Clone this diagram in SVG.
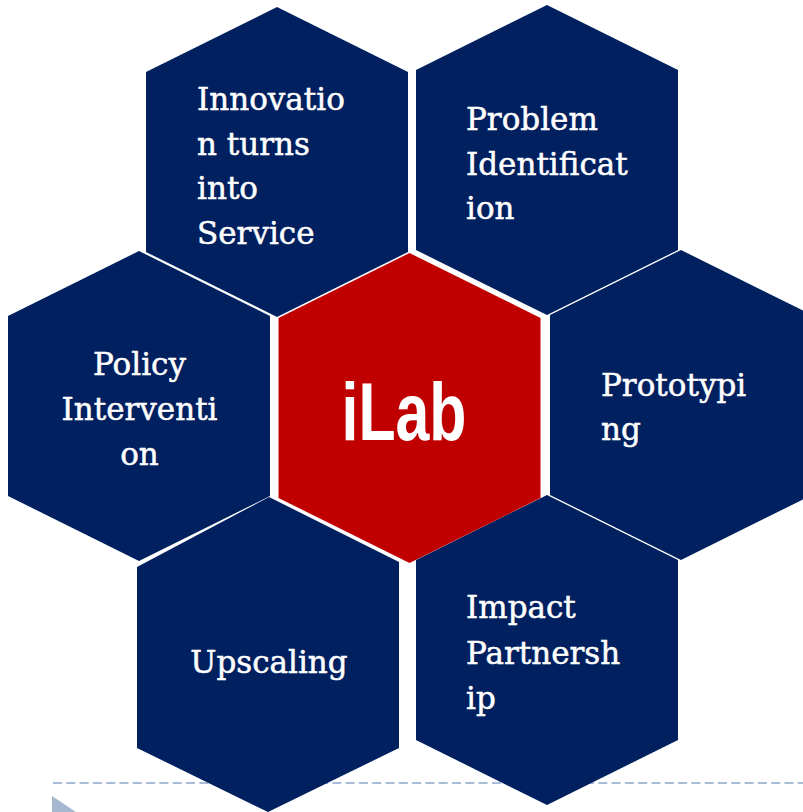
<svg xmlns="http://www.w3.org/2000/svg" width="803" height="812" viewBox="0 0 803 812">
<style>
.hex{fill:#002060;stroke:none}
.core{fill:#C00000;stroke:none}
.t{font-family:"DejaVu Serif","Liberation Serif",serif;font-size:31px;fill:#FFFFFF;stroke:#FFFFFF;stroke-width:0.5px}
.c{text-anchor:middle}
.big{font-family:"Liberation Sans",Arial,sans-serif;font-size:82px;font-weight:bold;fill:#FFFFFF;text-anchor:middle}
</style>
<rect width="803" height="812" fill="#FFFFFF"/>
<g id="decor">
<line x1="53" y1="783" x2="803" y2="783" stroke="#A9BCD5" stroke-width="2" stroke-dasharray="9 4.3"/>
<polygon points="52,796 76,812 52,828" fill="#A5B8D0"/>
</g>
<g id="connectors"></g>
<g id="innovation">
<polygon class="hex" points="277,7 408,72 408,252 277,317 146,252 146,72"/>
<text class="t"><tspan x="197" y="110">Innovatio</tspan><tspan x="197" y="155">n turns</tspan><tspan x="197" y="199">into</tspan><tspan x="197" y="244">Service</tspan></text>
</g>
<g id="problem">
<polygon class="hex" points="547,5 678,70 678,250 547,315 416,250 416,70"/>
<text class="t"><tspan x="466" y="130">Problem</tspan><tspan x="466" y="175">Identificat</tspan><tspan x="466" y="219">ion</tspan></text>
</g>
<g id="policy">
<polygon class="hex" points="139,251 270,316 270,496 139,561 8,496 8,316"/>
<text class="t c"><tspan x="139.5" y="375">Policy</tspan><tspan x="139.5" y="420">Interventi</tspan><tspan x="139.5" y="465">on</tspan></text>
</g>
<g id="prototyping">
<polygon class="hex" points="681,250 812,315 812,495 681,560 550,495 550,315"/>
<text class="t"><tspan x="601" y="396">Prototypi</tspan><tspan x="601" y="440">ng</tspan></text>
</g>
<g id="upscaling">
<polygon class="hex" points="269,497 399,562 399,748 268,812 137,748 137,567"/>
<text class="t c" x="269" y="673">Upscaling</text>
</g>
<g id="impact">
<polygon class="hex" points="547,495 678,560 678,740 547,805 416,740 416,560"/>
<text class="t"><tspan x="466" y="618">Impact</tspan><tspan x="466" y="664">Partnersh</tspan><tspan x="466" y="709">ip</tspan></text>
</g>
<g id="ilab">
<polygon class="core" points="409.5,253 540.5,318 540.5,498 409.5,563 278.5,498 278.5,318"/>
<text class="big" x="404" y="440" textLength="125" lengthAdjust="spacingAndGlyphs">iLab</text>
</g>
</svg>
